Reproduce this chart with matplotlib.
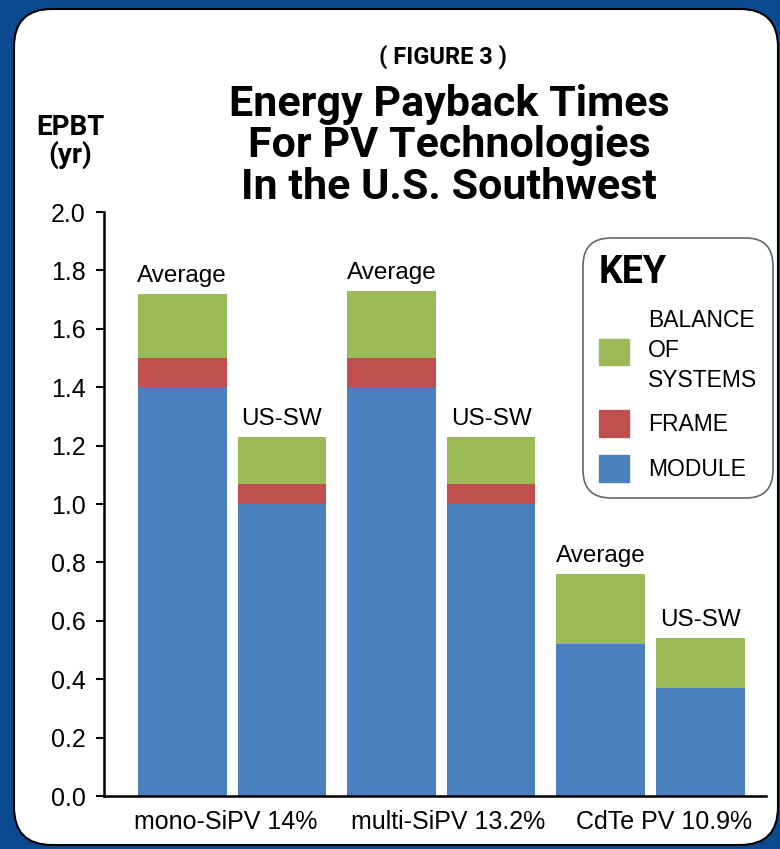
import matplotlib
matplotlib.use('Agg')

import matplotlib.pyplot as plt
from matplotlib.patches import FancyBboxPatch, Patch
from matplotlib.transforms import ScaledTranslation
import numpy as np

# data (EPBT in years)
groups = ['mono-SiPV 14%', 'multi-SiPV 13.2%', 'CdTe PV 10.9%']
bar_names = ['Average', 'US-SW', 'Average', 'US-SW', 'Average', 'US-SW']
module = [1.40, 1.00, 1.40, 1.00, 0.52, 0.37]
frame = [0.10, 0.07, 0.10, 0.07, 0.00, 0.00]
bos = [0.22, 0.16, 0.23, 0.16, 0.24, 0.17]
yticks = [0.0, 0.2, 0.4, 0.6, 0.8, 1.0, 1.2, 1.4, 1.6, 1.8, 2.0]

BLUE = '#4a80bd'
RED = '#c0504d'
GREEN = '#9bbb59'
BG = '#0b4a8e'

plt.rcParams['font.family'] = ['Liberation Sans', 'DejaVu Sans']
TITLE_FONT = ['Roboto', 'DejaVu Sans']

W, H = 780, 849
fig = plt.figure(figsize=(W / 100, H / 100), dpi=100, facecolor=BG)

# white rounded panel, drawn in pixel coords
bg = fig.add_axes([0, 0, 1, 1])
bg.set_xlim(0, W)
bg.set_ylim(H, 0)
bg.axis('off')
bg.add_patch(FancyBboxPatch((14, 9), 764, 836,
                            boxstyle='round,pad=0,rounding_size=38',
                            fc='white', ec='black', lw=1.5))

def fx(px):
    return px / W

def fy(py):
    return 1 - py / H

# titles
fig.text(fx(443), fy(64), '( FIGURE 3 )', ha='center', va='baseline',
         fontsize=17, fontweight='bold', family=TITLE_FONT)
for line, y in zip(['Energy Payback Times', 'For PV Technologies',
                    'In the U.S. Southwest'], [116, 157, 199]):
    fig.text(fx(449), fy(y), line, ha='center', va='baseline',
             fontsize=31, fontweight='bold', family=TITLE_FONT)
fig.text(fx(70), fy(135), 'EPBT', ha='center', va='baseline',
         fontsize=20, fontweight='bold', family=TITLE_FONT)
fig.text(fx(70), fy(163), '(yr)', ha='center', va='baseline',
         fontsize=20, fontweight='bold', family=TITLE_FONT)

# main chart
ax = fig.add_axes([fx(104), fy(796), (766 - 104) / W, (796 - 212) / H])
ax.patch.set_alpha(0)

group_x = np.arange(len(groups)) * 2.1
x = np.array([[g - 0.5, g + 0.5] for g in group_x]).ravel()
width = 0.89

module = np.array(module)
frame = np.array(frame)
bos = np.array(bos)

ax.bar(x, module, width, color=BLUE, label='MODULE')
ax.bar(x, frame, width, bottom=module, color=RED, label='FRAME')
top = ax.bar(x, bos, width, bottom=module + frame, color=GREEN,
             label='BALANCE\nOF\nSYSTEMS')
ax.bar_label(top, labels=bar_names, padding=5, fontsize=17.5)

ax.set_ylim(0, 2.0)
ax.set_xlim(group_x[0] - 1.286, group_x[-1] + 1.16)
ax.set_yticks(yticks)
ax.set_yticklabels([f'{v:.1f}' for v in yticks])
ax.set_xticks(group_x)
ax.set_xticklabels(groups)
ax.tick_params(axis='y', labelsize=18, length=6, width=1.5, pad=7)
ax.tick_params(axis='x', labelsize=18, length=0, pad=10)
# category labels sit a little off-centre in the original
for lab, dx in zip(ax.get_xticklabels(), [-6, 7, 14]):
    lab.set_transform(lab.get_transform() + ScaledTranslation(dx / 100, 0, fig.dpi_scale_trans))
for s in ['top', 'right']:
    ax.spines[s].set_visible(False)
for s in ['left', 'bottom']:
    ax.spines[s].set_linewidth(1.8)

# key
handles = [Patch(color=GREEN), Patch(color=RED), Patch(color=BLUE)]
labels = ['BALANCE\nOF\nSYSTEMS', 'FRAME', 'MODULE']
leg = fig.legend(handles, labels, loc='upper left',
                 bbox_to_anchor=(fx(583), fy(238)), borderaxespad=0,
                 title='KEY', alignment='left',
                 title_fontproperties={'family': TITLE_FONT, 'weight': 'bold', 'size': 27},
                 fontsize=16.5, handlelength=1.31, handleheight=1.4,
                 handletextpad=0.83, labelspacing=0.8, borderpad=0.7,
                 fancybox=True, edgecolor='#666666', framealpha=1)
leg.get_frame().set_boxstyle('round,pad=0,rounding_size=1.2')
leg.get_frame().set_linewidth(1.2)
for t in leg.get_texts():
    t.set_linespacing(1.38)

fig.savefig('out.png', dpi=100, facecolor=BG)
